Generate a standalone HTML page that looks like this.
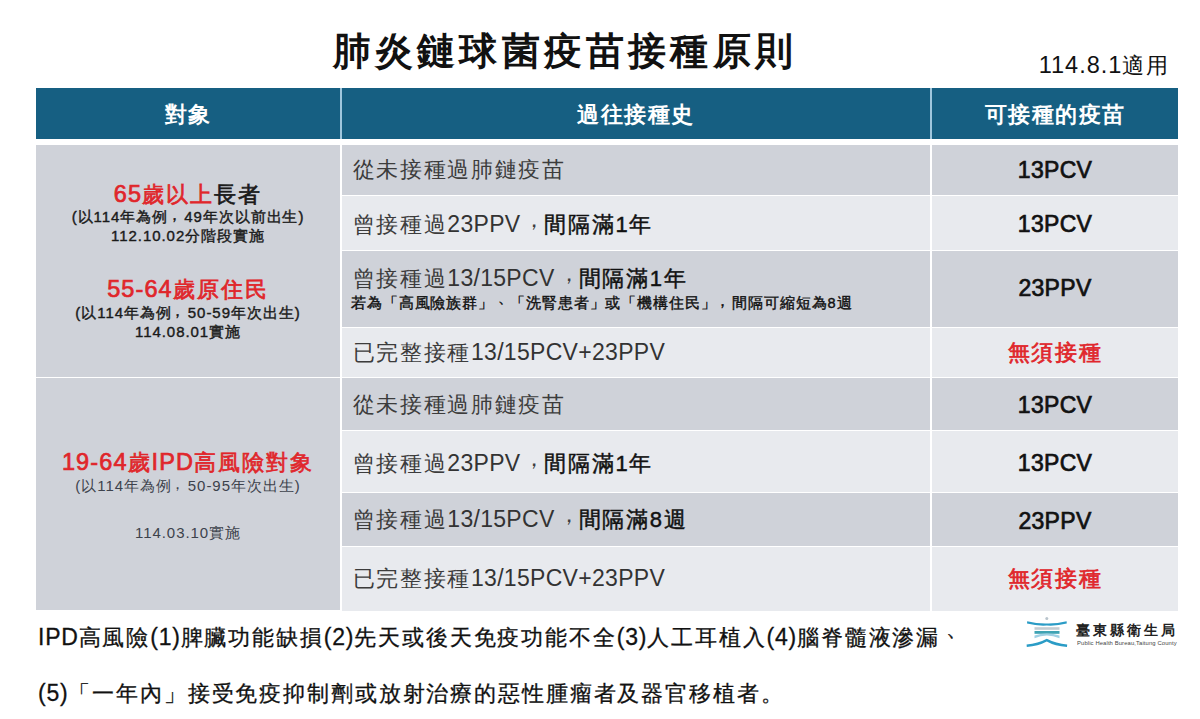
<!DOCTYPE html>
<html lang="zh-Hant">
<head>
<meta charset="utf-8">
<title>肺炎鏈球菌疫苗接種原則</title>
<style>
*{margin:0;padding:0;box-sizing:border-box}
html,body{width:1200px;height:719px;background:#fff;overflow:hidden}
body{position:relative;font-family:"Liberation Sans",sans-serif;color:#111}
.abs{position:absolute}
i{font-style:normal}
.title{left:2px;width:1126px;top:24px;height:54px;line-height:54px;text-align:center;font-size:38px;font-weight:700;letter-spacing:4.2px;color:#111;white-space:nowrap}
.date{right:31px;top:51px;height:28px;line-height:28px;font-size:21.5px;letter-spacing:1.3px;white-space:nowrap;color:#111}
.date i{font-size:23.5px;letter-spacing:1px}
.hd{background:#165f82;color:#fff;font-weight:700;font-size:21.5px;letter-spacing:1.5px;text-align:center;top:88px;height:50.5px;line-height:55.5px;white-space:nowrap;overflow:hidden}
.c1{left:36px;width:304px}
.c2{left:342px;width:588px}
.c3{left:932px;width:246px}
.vline{top:88px;height:50.5px;width:2px;background:#9fc6dd}
.dk{background:#cfd2d9}
.lt{background:#e8eaee}
.row{white-space:nowrap}
.row.c2{font-size:22px;padding-left:10.5px;color:#3c3c3c;letter-spacing:1.7px}
.row.c2 i{font-size:23px;letter-spacing:.3px;color:#333}
.row.c3{font-size:23px;text-align:center;font-weight:400;color:#111;-webkit-text-stroke:.7px #111;letter-spacing:.3px}
.row.c3.red{color:#e0262b;letter-spacing:1.6px;font-size:22px;-webkit-text-stroke:.7px #e0262b}
.red{color:#e0262b}
b{font-weight:400;color:#111;-webkit-text-stroke:.45px #111}
.cm{display:inline-block;width:24px;text-align:left;position:relative;top:-5px;left:3px;letter-spacing:0}
.lc{left:36px;width:304px;text-align:center;white-space:nowrap;font-weight:700;color:#1a1a1a}
.big{font-size:22px;letter-spacing:2px;height:30px;line-height:30px;font-weight:400;-webkit-text-stroke:.7px}
.big i{font-size:23.5px;letter-spacing:1.1px}
.sm{font-size:15px;letter-spacing:.95px;height:20px;line-height:20px;font-weight:400;-webkit-text-stroke:.4px}
.sm .cm{width:16px;top:-2px;left:-1.5px}
.reg{font-weight:400;color:#3d424c;-webkit-text-stroke:0}
.note{left:351px;font-size:14.5px;font-weight:400;-webkit-text-stroke:.4px;letter-spacing:.9px;color:#111;white-space:nowrap;height:20px;line-height:20px}
.note .cm{width:15.5px;top:-2px;left:-2px}
.foot{left:38px;font-size:22px;letter-spacing:1.87px;white-space:nowrap;color:#111;-webkit-text-stroke:.3px #111;height:30px;line-height:30px}
.foot i{font-size:23px;letter-spacing:.75px}
.dn{position:relative;left:6px;top:-9px}
.note .dn{left:4px;top:-5px}
.lgname{left:1076px;top:619px;height:22px;line-height:22px;font-size:14px;font-weight:700;letter-spacing:3px;color:#222;white-space:nowrap}
.lgsub{left:1077px;top:639px;height:8px;line-height:8px;font-size:10px;color:#444;white-space:nowrap;transform:scale(.585);transform-origin:0 50%;letter-spacing:.2px}
</style>
</head>
<body>
<div class="abs title">肺炎鏈球菌疫苗接種原則</div>
<div class="abs date"><i>114.8.1</i>適用</div>

<div class="abs hd c1">對象</div>
<div class="abs hd c2">過往接種史</div>
<div class="abs hd c3">可接種的疫苗</div>
<div class="abs vline" style="left:340px"></div>
<div class="abs vline" style="left:930px"></div>

<!-- left groups -->
<div class="abs c1 dk" style="top:144.6px;height:232.1px"></div>
<div class="abs c1 dk" style="top:377.8px;height:232.7px"></div>

<div class="abs lc big" style="top:179px"><span class="red"><i>65</i>歲以上</span>長者</div>
<div class="abs lc sm" style="top:207px">(以114年為例<span class="cm">，</span>49年次以前出生)</div>
<div class="abs lc sm" style="top:226px">112.10.02分階段實施</div>
<div class="abs lc big" style="top:274px"><span class="red"><i>55-64</i>歲原住民</span></div>
<div class="abs lc sm" style="top:303px">(以114年為例<span class="cm">，</span>50-59年次出生)</div>
<div class="abs lc sm" style="top:322px">114.08.01實施</div>

<div class="abs lc big" style="top:447px"><span class="red"><i>19-64</i>歲<i>IPD</i>高風險對象</span></div>
<div class="abs lc sm reg" style="top:476px">(以114年為例<span class="cm">，</span>50-95年次出生)</div>
<div class="abs lc sm reg" style="top:523px">114.03.10實施</div>

<!-- rows -->
<div class="abs row c2 dk" style="top:144.6px;height:50px;line-height:50px">從未接種過肺鏈疫苗</div>
<div class="abs row c3 dk" style="top:144.6px;height:50px;line-height:50px">13PCV</div>

<div class="abs row c2 lt" style="top:195.7px;height:54.4px;line-height:54.4px;padding-top:1px">曾接種過<i>23PPV</i><span class="cm">，</span><b>間隔滿1年</b></div>
<div class="abs row c3 lt" style="top:195.7px;height:54.4px;line-height:54.4px;padding-top:1px">13PCV</div>

<div class="abs row c2 dk" style="top:251.1px;height:75.7px;line-height:30px;padding-top:12px">曾接種過<i>13/15PCV</i><span class="cm">，</span><b>間隔滿1年</b></div>
<div class="abs note" style="top:293px">若為「高風險族群」<span class="dn">、</span>「洗腎患者」或「機構住民」<span class="cm">，</span>間隔可縮短為8週</div>
<div class="abs row c3 dk" style="top:251.1px;height:75.7px;line-height:75.7px">23PPV</div>

<div class="abs row c2 lt" style="top:327.9px;height:48.7px;line-height:48.7px">已完整接種<i>13/15PCV+23PPV</i></div>
<div class="abs row c3 lt red" style="top:327.9px;height:48.7px;line-height:48.7px;padding-top:1px">無須接種</div>

<div class="abs row c2 dk" style="top:377.7px;height:52.4px;line-height:52.4px;padding-top:1.5px">從未接種過肺鏈疫苗</div>
<div class="abs row c3 dk" style="top:377.7px;height:52.4px;line-height:52.4px;padding-top:1.5px">13PCV</div>

<div class="abs row c2 lt" style="top:431.3px;height:60.7px;line-height:60.7px;padding-top:1.8px">曾接種過<i>23PPV</i><span class="cm">，</span><b>間隔滿1年</b></div>
<div class="abs row c3 lt" style="top:431.3px;height:60.7px;line-height:60.7px;padding-top:1.8px">13PCV</div>

<div class="abs row c2 dk" style="top:493px;height:52.9px;line-height:52.9px">曾接種過<i>13/15PCV</i><span class="cm">，</span><b>間隔滿8週</b></div>
<div class="abs row c3 dk" style="top:493px;height:52.9px;line-height:52.9px;padding-top:1.5px">23PPV</div>

<div class="abs row c2 lt" style="top:547px;height:63.5px;line-height:63.5px">已完整接種<i>13/15PCV+23PPV</i></div>
<div class="abs row c3 lt red" style="top:547px;height:63.5px;line-height:63.5px">無須接種</div>

<div class="abs foot" style="top:622px"><i>IPD</i>高風險<i>(1)</i>脾臟功能缺損<i>(2)</i>先天或後天免疫功能不全<i>(3)</i>人工耳植入<i>(4)</i>腦脊髓液滲漏<span class="dn">、</span></div>
<div class="abs foot" style="top:678px"><i>(5)</i>「一年內」接受免疫抑制劑或放射治療的惡性腫瘤者及器官移植者。</div>

<!-- logo -->
<svg class="abs" style="left:1024px;top:614px" width="48" height="36" viewBox="0 0 48 36">
  <circle cx="22.8" cy="4.6" r="1.5" fill="#b9c4cc"/>
  <path d="M3.2 7.2 Q13 9.6 22.8 9.4 Q33 9.6 42.6 7.2 L42.8 9.6 Q33 12.2 22.8 11.6 Q13 12.2 3 9.6 Z" fill="#2b9cc6"/>
  <rect x="10.5" y="13.2" width="25" height="2.6" fill="#c3ccd2"/>
  <rect x="10.5" y="17" width="25" height="2.8" fill="#3fa3b4"/>
  <path d="M10.5 24.2 Q22.8 18.6 35.5 24.2 L35.5 21.6 Q22.8 17.2 10.5 21.6 Z" fill="#9fd0e4"/>
  <path d="M2.6 30.6 Q14 29.6 22.8 24.8 Q32 29.6 43.2 30.6 L43 33 Q31 32.4 22.8 27.6 Q14 32.4 2.8 33 Z" fill="#2b9cc6"/>
</svg>
<div class="abs lgname">臺東縣衛生局</div>
<div class="abs lgsub">Public Health Bureau,Taitung County</div>
</body>
</html>
